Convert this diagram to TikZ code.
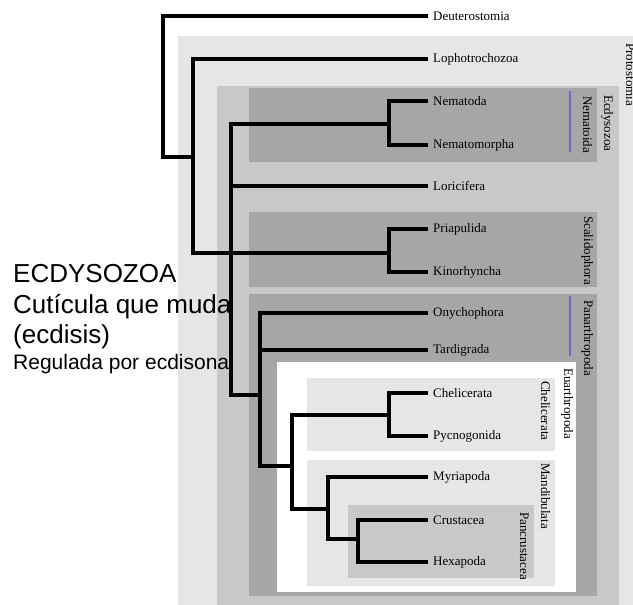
\documentclass[tikz,border=0pt]{standalone}
\usepackage{fontspec}
\setmainfont{Liberation Serif}
\newfontfamily\sansfont{Liberation Sans}

\definecolor{protoGray}{HTML}{E6E6E6}
\definecolor{ecdyGray}{HTML}{C8C8C8}
\definecolor{cladeGray}{HTML}{A6A6A6}
\definecolor{barBlue}{HTML}{6A6AD2}

\tikzset{
  branch/.style={line width=4pt, line cap=rect},
  leaf/.style={anchor=west, inner xsep=7pt, inner ysep=1pt, font=\fontsize{13}{15}\selectfont},
  cladename/.style={rotate=-90, anchor=base west, inner sep=0pt, font=\fontsize{13}{15}\selectfont},
  bar/.style={draw=barBlue, line width=1.5pt},
  note/.style={anchor=base west, inner sep=0pt, font=\sansfont\fontsize{26}{30}\selectfont}
}

\begin{document}
\begin{tikzpicture}[x=1pt,y=-1pt]
\useasboundingbox (0,0) rectangle (633,605);
\clip (0,0) rectangle (633,605);
% clade boxes
\fill[protoGray] (178,36) rectangle (640,610);
\fill[ecdyGray] (217,86) rectangle (619,610);
\fill[cladeGray] (249,88) rectangle (597,162);
\fill[cladeGray] (249,212) rectangle (597,287);
\fill[cladeGray] (249,294) rectangle (597,596);
\fill[white] (277,362) rectangle (576,592);
\fill[protoGray] (307,378) rectangle (555,451);
\fill[protoGray] (307,460) rectangle (555,586);
\fill[ecdyGray] (348,505) rectangle (534,578);
\draw[bar] (570,91) -- (570,152);
\draw[bar] (570,296) -- (570,356);
% clade names
\node[cladename] (protoN) at (626,43) {Protostomia};
\node[cladename] (ecdyN) at (604,95) {Ecdysozoa};
\node[cladename] (nemdN) at (583,96) {Nematoida};
\node[cladename] (scalN) at (584,216) {Scalidophora};
\node[cladename] (panaN) at (584,300) {Panarthropoda};
\node[cladename] (euarN) at (564,368) {Euarthropoda};
\node[cladename] (chelN) at (541,381) {Chelicerata};
\node[cladename] (mandN) at (541,463) {Mandibulata};
\node[cladename] (pancN) at (520,512) {Pancrustacea};
% notes
\node[note] (ecdyT) at (13,282) {ECDYSOZOA};
\node[note] (cutiT) at (13,313) {Cutícula que muda};
\node[note] (ecdiT) at (13,343) {(ecdisis)};
\node[note, font=\sansfont\fontsize{21}{25}\selectfont] (reguT) at (13,369) {Regulada por ecdisona};
% leaves
\node[leaf] (deut) at (426,16) {Deuterostomia};
\node[leaf] (loph) at (426,59) {Lophotrochozoa};
\node[leaf] (nemt) at (426,101) {Nematoda};
\node[leaf] (nemm) at (426,145) {Nematomorpha};
\node[leaf] (lori) at (426,186) {Loricifera};
\node[leaf] (pria) at (426,229) {Priapulida};
\node[leaf] (kino) at (426,272) {Kinorhyncha};
\node[leaf] (onyc) at (426,313) {Onychophora};
\node[leaf] (tard) at (426,350) {Tardigrada};
\node[leaf] (chce) at (426,393) {Chelicerata};
\node[leaf] (pycn) at (426,436) {Pycnogonida};
\node[leaf] (myri) at (426,477) {Myriapoda};
\node[leaf] (crus) at (426,520) {Crustacea};
\node[leaf] (hexa) at (426,562) {Hexapoda};
% inner nodes
\coordinate (root) at (163,157);
\coordinate (proto) at (193,157);
\coordinate (ecdy) at (231,253);
\coordinate (nemd) at (389,124);
\coordinate (scal) at (389,253);
\coordinate (pana) at (260,395);
\coordinate (euar) at (292,466);
\coordinate (chel) at (389,415);
\coordinate (mand) at (328,509);
\coordinate (panc) at (358,539);
% tree
\draw[branch] (deut.west) -| (root);
\draw[branch] (proto) -| (root);
\draw[branch] (loph.west) -| (proto);
\draw[branch] (ecdy) -| (proto);
\draw[branch] (nemd) -| (ecdy);
\draw[branch] (lori.west) -| (ecdy);
\draw[branch] (scal) -| (ecdy);
\draw[branch] (pana) -| (ecdy);
\draw[branch] (nemt.west) -| (nemd);
\draw[branch] (nemm.west) -| (nemd);
\draw[branch] (pria.west) -| (scal);
\draw[branch] (kino.west) -| (scal);
\draw[branch] (onyc.west) -| (pana);
\draw[branch] (tard.west) -| (pana);
\draw[branch] (euar) -| (pana);
\draw[branch] (chel) -| (euar);
\draw[branch] (mand) -| (euar);
\draw[branch] (chce.west) -| (chel);
\draw[branch] (pycn.west) -| (chel);
\draw[branch] (myri.west) -| (mand);
\draw[branch] (panc) -| (mand);
\draw[branch] (crus.west) -| (panc);
\draw[branch] (hexa.west) -| (panc);
\end{tikzpicture}
\end{document}
